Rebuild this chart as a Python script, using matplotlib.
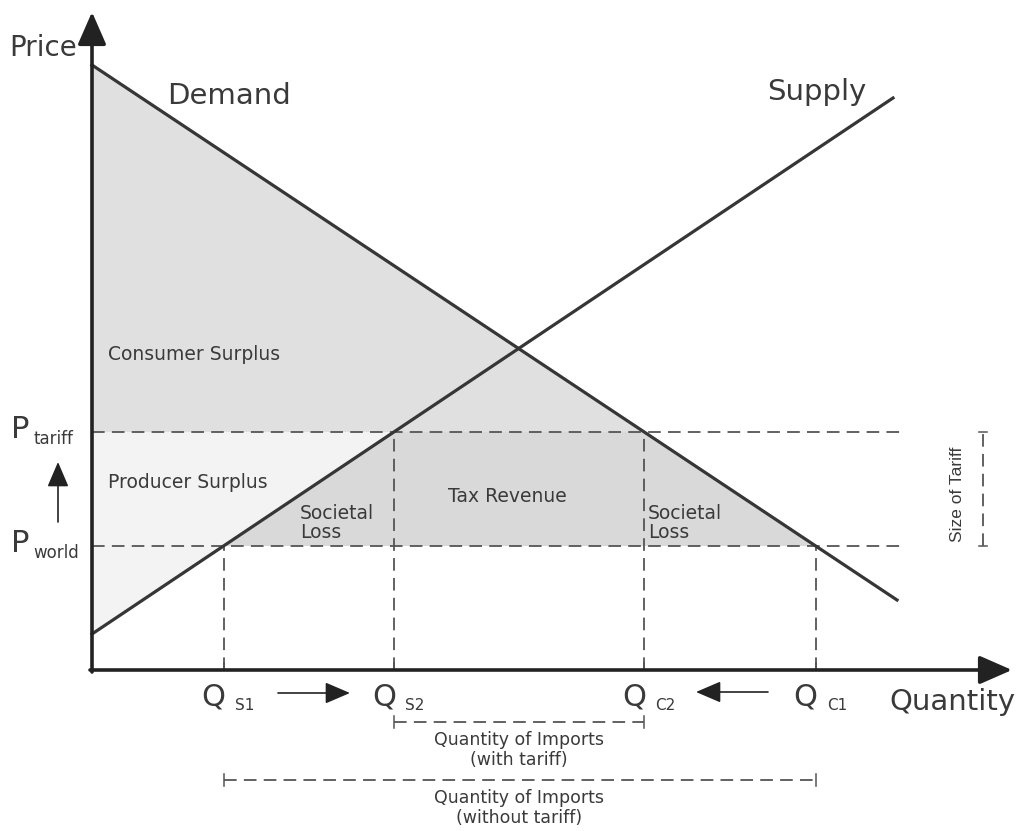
import numpy as np
import matplotlib
matplotlib.use("Agg")
import matplotlib.pyplot as plt

# curves (quantity, price), origin at the corner of the axes
demand_q = [0, 805]
demand_p = [605, 70]
supply_q = [0, 801]
supply_p = [36, 572]

p_world = 124
p_tariff = 238

q_labels = [("Q", "S1"), ("Q", "S2"), ("Q", "C2"), ("Q", "C1")]

line_col = "#363636"
txt_col = "#3a3a3a"
dash_col = "#555555"


def supply_at(p):
    return np.interp(p, supply_p, supply_q)


def demand_at(p):
    # demand is decreasing, so flip for interp
    return np.interp(p, demand_p[::-1], demand_q[::-1])


q_s1 = supply_at(p_world)
q_s2 = supply_at(p_tariff)
q_c2 = demand_at(p_tariff)
q_c1 = demand_at(p_world)
q_marks = [q_s1, q_s2, q_c2, q_c1]

fig = plt.figure(figsize=(10.24, 8.31), dpi=100)
ax = fig.add_axes([0, 0, 1, 1])
ax.set_xlim(-92, 932)
ax.set_ylim(-161, 670)
ax.axis("off")

# shaded areas
ax.fill([0, 0, q_c2], [demand_p[0], p_tariff, p_tariff], color="#e0e0e0", lw=0, zorder=1)
ax.fill([0, 0, q_s2], [supply_p[0], p_tariff, p_tariff], color="#f3f3f3", lw=0, zorder=1)
ax.fill([q_s1, q_c1, q_c2, q_s2], [p_world, p_world, p_tariff, p_tariff],
        color="#d9d9d9", lw=0, zorder=1)

# price lines and quantity drops
dash = dict(color=dash_col, lw=1.3, dashes=(7, 4), zorder=2)
ax.plot([0, 808], [p_tariff, p_tariff], **dash)
ax.plot([0, 813], [p_world, p_world], **dash)
for q, p in zip(q_marks, [p_world, p_tariff, p_tariff, p_world]):
    ax.plot([q, q], [0, p], **dash)
    ax.plot([q, q], [0, 7], color=dash_col, lw=1.3, zorder=2)

# demand and supply
ax.plot(demand_q, demand_p, color=line_col, lw=2.3, zorder=3)
ax.plot(supply_q, supply_p, color=line_col, lw=2.3, zorder=3)

# axes with arrow heads
big_head = dict(arrowstyle="-|>,head_length=0.8,head_width=0.35", color="#222222",
                lw=2.6, mutation_scale=25, shrinkA=0, shrinkB=0)
ax.annotate("", xy=(0, 658), xytext=(0, -2), arrowprops=big_head, zorder=4)
ax.annotate("", xy=(920, 0), xytext=(-2, 0), arrowprops=big_head, zorder=4)

small_head = dict(arrowstyle="-|>,head_length=0.7,head_width=0.3", color="#222222",
                  lw=1.2, mutation_scale=22, shrinkA=0, shrinkB=0)
ax.annotate("", xy=(-34, 208), xytext=(-34, 148), arrowprops=small_head)
ax.annotate("", xy=(258, -23), xytext=(186, -23), arrowprops=small_head)
ax.annotate("", xy=(604, -22), xytext=(676, -22), arrowprops=small_head)

# axis titles and curve names
big = dict(color=txt_col, fontsize=21, va="center")
ax.text(-83, 622, "Price", ha="left", color=txt_col, fontsize=20, va="center")
ax.text(797, -32, "Quantity", ha="left", **big)
ax.text(75, 574, "Demand", ha="left", **big)
ax.text(675, 578, "Supply", ha="left", **big)

# price level labels
ax.text(-81, 240, "P", ha="left", color=txt_col, fontsize=22, va="center")
ax.text(-58, 231, "tariff", ha="left", color=txt_col, fontsize=12, va="center")
ax.text(-81, 126, "P", ha="left", color=txt_col, fontsize=22, va="center")
ax.text(-59, 117, "world", ha="left", color=txt_col, fontsize=12, va="center")

# quantity labels
for q, (main, sub) in zip(q_marks, q_labels):
    ax.text(q - 22, -27, main, ha="left", va="center", color=txt_col, fontsize=22)
    ax.text(q + 11, -35, sub, ha="left", va="center", color=txt_col, fontsize=11)

# area labels
mid = dict(color=txt_col, fontsize=13.5, va="center", ha="left")
ax.text(16, 315, "Consumer Surplus", **mid)
ax.text(16, 187, "Producer Surplus", **mid)
ax.text(208, 147, "Societal\nLoss", linespacing=1.05, **mid)
ax.text(356, 174, "Tax Revenue", **mid)
ax.text(556, 147, "Societal\nLoss", linespacing=1.05, **mid)

# import brackets
small = dict(color=txt_col, fontsize=12.5, ha="center", va="center", linespacing=1.1)
for q0, q1, y, label in [(q_s2, q_c2, -52, "Quantity of Imports\n(with tariff)"),
                         (q_s1, q_c1, -110, "Quantity of Imports\n(without tariff)")]:
    ax.plot([q0, q1], [y, y], **dash)
    ax.plot([q0, q0], [y - 6, y + 6], color=dash_col, lw=1.1)
    ax.plot([q1, q1], [y - 6, y + 6], color=dash_col, lw=1.1)
    ax.text((q_s2 + q_c2) / 2, y - 28, label, **small)

# size of tariff bracket
ax.plot([891, 891], [p_world, p_tariff], **dash)
ax.plot([887, 895], [p_world, p_world], color=dash_col, lw=1.1)
ax.plot([887, 895], [p_tariff, p_tariff], color=dash_col, lw=1.1)
ax.text(865, 176, "Size of Tariff", rotation=90, color=txt_col, fontsize=12.5,
        family="Liberation Sans", ha="center", va="center")

plt.savefig("out.png", dpi=100)
